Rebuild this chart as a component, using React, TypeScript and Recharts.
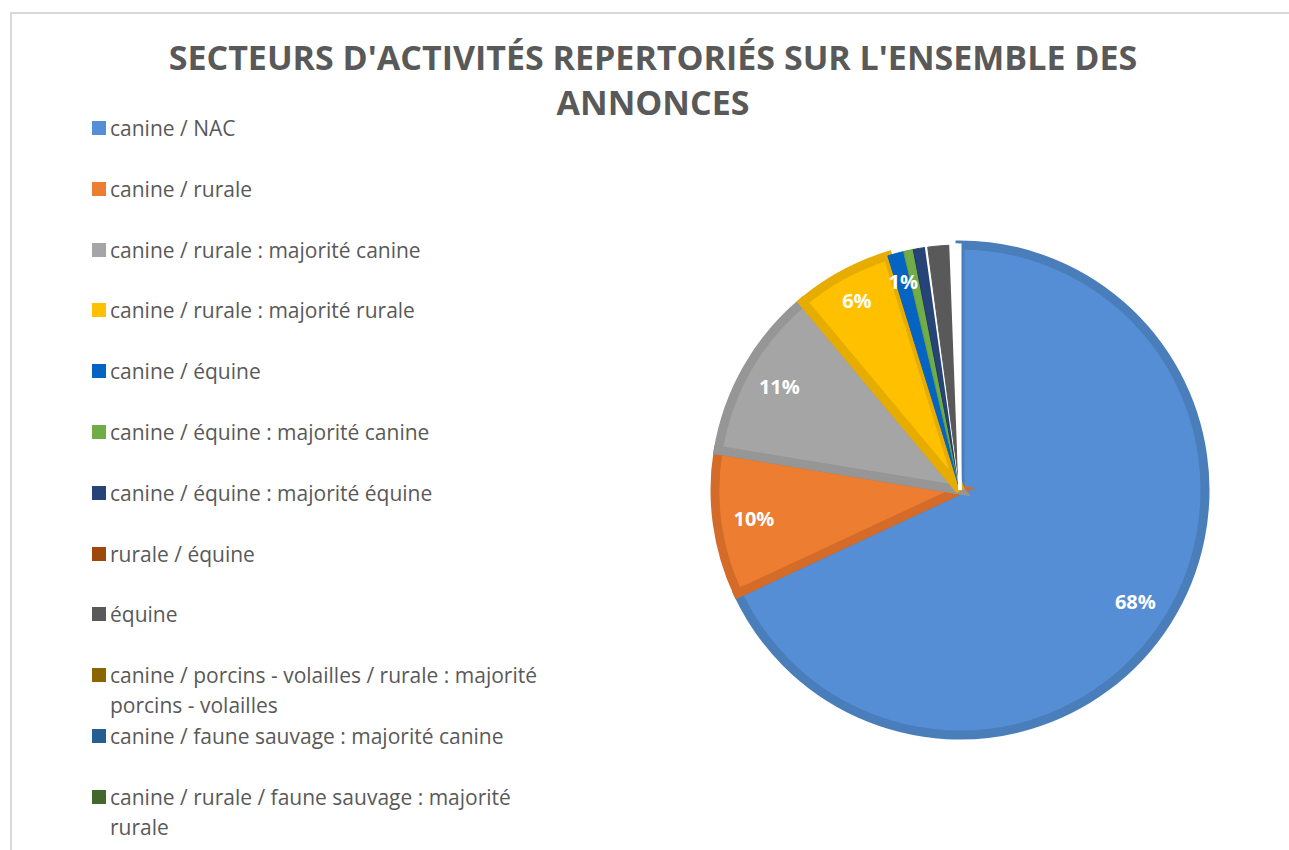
import React from 'react';
import { PieChart, Pie, Cell } from 'recharts';

const categories = [
  'canine / NAC',
  'canine / rurale',
  'canine / rurale : majorité canine',
  'canine / rurale : majorité rurale',
  'canine / équine',
  'canine / équine : majorité canine',
  'canine / équine : majorité équine',
  'rurale / équine',
  'équine',
  'canine / porcins - volailles / rurale : majorité porcins - volailles',
  'canine / faune sauvage : majorité canine',
  'canine / rurale / faune sauvage : majorité rurale',
];

// share of the ads, in %
const shares = [67.9, 9.5, 11.3, 6.3, 1.06, 0.64, 0.83, 0.12, 1.5, 0.2, 0.2, 0.2];

const fills = [
  '#558ed5', '#ed7d31', '#a5a5a5', '#ffc000', '#0563c1', '#70ad47',
  '#264478', '#9e480e', '#595959', '#8b6500', '#255e91', '#43682b',
];
const borders = [
  '#4a7ebb', '#d46b28', '#969696', '#e6ad00', '#0563c1', '#639b45',
  '#203864', '#ffffff', '#595959', '#ffffff', '#ffffff', '#ffffff',
];
const borderWidths = [9, 9, 9, 9, 1, 1, 1, 2, 1, 3, 3, 3];

const data = categories.map((name, i) => ({ name, value: shares[i] }));

const RAD = Math.PI / 180;

const renderLabel = (props: any) => {
  const { cx, cy, midAngle, percent, index } = props;
  if (index > 4) return null;
  const r = index === 3 || index === 4 ? 216 : 208;
  const x = cx + r * Math.cos(-midAngle * RAD);
  const y = cy + r * Math.sin(-midAngle * RAD);
  return (
    <text
      x={x}
      y={y}
      fill="#ffffff"
      textAnchor="middle"
      dominantBaseline="central"
      fontSize={20}
      fontWeight="bold"
      fontFamily="'Open Sans', sans-serif"
    >
      {`${Math.round(percent * 100)}%`}
    </text>
  );
};

export default function App() {
  return (
    <div
      style={{
        position: 'absolute',
        left: 0,
        top: 0,
        width: 1289,
        height: 850,
        overflow: 'hidden',
        background: '#ffffff',
        fontFamily: "'Open Sans', sans-serif",
      }}
    >
      <div
        style={{
          position: 'absolute',
          left: 10,
          top: 12,
          width: 1300,
          height: 900,
          border: '2px solid #d9d9d9',
        }}
      />
      <div
        style={{
          position: 'absolute',
          left: 10,
          top: 35,
          width: 1286,
          textAlign: 'center',
          color: '#595959',
          fontWeight: 'bold',
          fontSize: 34,
          lineHeight: '45px',
        }}
      >
        SECTEURS D'ACTIVITÉS REPERTORIÉS SUR L'ENSEMBLE DES
        <br />
        ANNONCES
      </div>

      <div style={{ position: 'absolute', left: 92, top: 113, width: 470 }}>
        {data.map((d, i) => (
          <div key={d.name} style={{ display: 'flex', height: 60.8, alignItems: 'flex-start' }}>
            <div
              style={{
                width: 14,
                height: 14,
                marginTop: 8,
                marginRight: 4,
                flexShrink: 0,
                background: fills[i],
              }}
            />
            <div style={{ fontSize: 21, lineHeight: '30px', color: '#595959', width: 440 }}>{d.name}</div>
          </div>
        ))}
      </div>

      <div style={{ position: 'absolute', left: 0, top: 0 }}>
        <PieChart width={1289} height={850} margin={{ top: 0, right: 0, bottom: 0, left: 0 }}>
          <Pie
            data={data}
            dataKey="value"
            nameKey="name"
            cx={960}
            cy={490}
            outerRadius={245}
            startAngle={90}
            endAngle={-270}
            label={renderLabel}
            labelLine={false}
            isAnimationActive={false}
          >
            {data.map((d, i) => (
              <Cell key={d.name} fill={fills[i]} stroke={borders[i]} strokeWidth={borderWidths[i]} />
            ))}
          </Pie>
        </PieChart>
      </div>
    </div>
  );
}
